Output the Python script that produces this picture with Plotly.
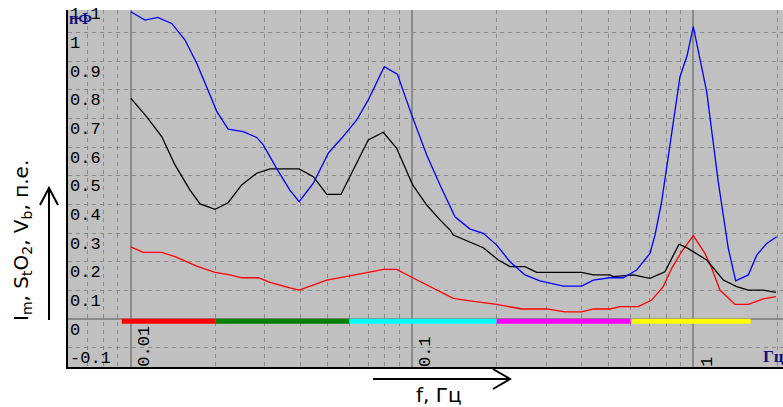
import math
import plotly.graph_objects as go

# ---------------- data ----------------
blue_f = [0.01, 0.01124, 0.01247, 0.01399, 0.0156, 0.01717, 0.01914, 0.0202, 0.0222, 0.02513,
          0.02805, 0.0296, 0.0330, 0.0368, 0.0397, 0.0446, 0.0504, 0.0562, 0.0636, 0.0699,
          0.0797, 0.0887, 0.0998, 0.1128, 0.1258, 0.1365, 0.1422, 0.1608, 0.1793, 0.2001,
          0.2231, 0.2522, 0.2851, 0.3451, 0.4012, 0.4413, 0.5058, 0.5639, 0.6292, 0.7015,
          0.731, 0.7721, 0.831, 0.8969, 0.9519, 1.0, 1.116, 1.227, 1.332, 1.415,
          1.569, 1.681, 1.824, 1.980]
blue_v = [1.073, 1.044, 1.053, 1.032, 0.974, 0.893, 0.782, 0.726, 0.663, 0.654,
          0.634, 0.608, 0.526, 0.450, 0.410, 0.474, 0.579, 0.631, 0.695, 0.765,
          0.881, 0.855, 0.712, 0.573, 0.468, 0.392, 0.357, 0.314, 0.299, 0.258,
          0.200, 0.154, 0.133, 0.115, 0.115, 0.136, 0.144, 0.144, 0.171, 0.229,
          0.293, 0.410, 0.619, 0.846, 0.922, 1.021, 0.794, 0.479, 0.247, 0.133,
          0.154, 0.223, 0.264, 0.287]

black_f = [0.01, 0.0114, 0.01289, 0.01437, 0.01625, 0.01764, 0.01994, 0.0222, 0.0248, 0.02805,
           0.0313, 0.0368, 0.0397, 0.0446, 0.0498, 0.0559, 0.0627, 0.0699, 0.0791, 0.0882,
           0.1006, 0.1128, 0.1258, 0.1365, 0.1402, 0.1608, 0.1793, 0.2027, 0.2231, 0.2522,
           0.2776, 0.4012, 0.4413, 0.5058, 0.5194, 0.6118, 0.7015, 0.7932, 0.8897, 0.9474,
           1.0, 1.116, 1.195, 1.279, 1.427, 1.569, 1.774, 1.968]
black_v = [0.771, 0.706, 0.637, 0.538, 0.450, 0.402, 0.383, 0.406, 0.468, 0.509,
           0.524, 0.524, 0.524, 0.497, 0.435, 0.435, 0.532, 0.625, 0.652, 0.596,
           0.468, 0.398, 0.346, 0.311, 0.293, 0.270, 0.249, 0.206, 0.183, 0.183,
           0.163, 0.163, 0.154, 0.154, 0.148, 0.154, 0.142, 0.165, 0.261, 0.249,
           0.235, 0.206, 0.171, 0.136, 0.113, 0.101, 0.101, 0.093]

red_f = [0.01, 0.01109, 0.01289, 0.01437, 0.01717, 0.01994, 0.02254, 0.0248, 0.0284, 0.0313,
         0.0368, 0.0397, 0.0498, 0.0586, 0.0699, 0.0791, 0.0882, 0.1006, 0.119, 0.1365,
         0.1402, 0.1608, 0.2001, 0.2455, 0.3012, 0.3499, 0.4012, 0.4413, 0.5058, 0.549,
         0.6376, 0.7112, 0.7822, 0.8379, 0.9093, 1.0, 1.1004, 1.1628, 1.244, 1.407,
         1.569, 1.774, 1.968]
red_v = [0.252, 0.233, 0.233, 0.218, 0.185, 0.163, 0.154, 0.144, 0.144, 0.128,
         0.109, 0.101, 0.136, 0.150, 0.163, 0.173, 0.173, 0.144, 0.109, 0.078,
         0.072, 0.063, 0.051, 0.035, 0.035, 0.025, 0.025, 0.035, 0.035, 0.043,
         0.043, 0.066, 0.113, 0.177, 0.235, 0.291, 0.229, 0.177, 0.101, 0.051,
         0.051, 0.070, 0.078]

band_edges = [0.0093, 0.02, 0.06, 0.2, 0.6, 1.6]
band_colors = ["#ff0000", "#008000", "#00ffff", "#ff00ff", "#ffff00"]
band_level = -0.008

x_major_ticks = [0.01, 0.1, 1]
x_major_labels = ["0.01", "0.1", "1"]
y_ticks = [1.1, 1.0, 0.9, 0.8, 0.7, 0.6, 0.5, 0.4, 0.3, 0.2, 0.1, 0.0, -0.1]
y_labels = ["1.1", "1", "0.9", "0.8", "0.7", "0.6", "0.5", "0.4", "0.3", "0.2", "0.1", "0", "-0.1"]

x_title = "f, Гц"
y_title = "I<sub>m</sub>, S<sub>t</sub>O<sub>2</sub>, V<sub>b</sub>, п.е."

# ---------------- layout geometry ----------------
W, H = 783, 407
ML, MR, MT, MB = 68, 0, 10, 40
PW, PH = W - ML - MR, H - MT - MB
Y_RANGE = [-0.1676, 1.079]


def px(x):
    return (x - ML) / PW


def py(y):
    return (H - MB - y) / PH


def yval_to_paper(v):
    return (v - Y_RANGE[0]) / (Y_RANGE[1] - Y_RANGE[0])


minor_vals = [m * 10 ** d for d in (-3, -2, -1, 0) for m in range(2, 10)]

GRID = "#8a8a8a"
MONO = "Liberation Mono"
SANS = "DejaVu Sans"

fig = go.Figure()

for i, col in enumerate(band_colors):
    fig.add_trace(go.Scatter(x=[band_edges[i], band_edges[i + 1]], y=[band_level, band_level],
                             mode="lines", line=dict(color=col, width=5), hoverinfo="skip",
                             showlegend=False))

for f, v, col in ((red_f, red_v, "#ff0000"), (black_f, black_v, "#000000"), (blue_f, blue_v, "#0000ff")):
    fig.add_trace(go.Scatter(x=f, y=v, mode="lines", line=dict(color=col, width=1.3),
                             showlegend=False))

annotations = []
for val, txt in zip(y_ticks, y_labels):
    annotations.append(dict(x=0, xref="paper", y=yval_to_paper(val), yref="paper", text=txt,
                            showarrow=False, xanchor="left", yanchor="middle", xshift=0,
                            yshift=-11, font=dict(family=MONO, size=17, color="#000000")))
for val, txt in zip(x_major_ticks, x_major_labels):
    annotations.append(dict(x=math.log10(val), xref="x", y=0, yref="paper", text=txt,
                            showarrow=False, textangle=-90, xanchor="left", yanchor="bottom",
                            xshift=2, yshift=-2,
                            font=dict(family=MONO, size=17, color="#000000")))
annotations.append(dict(x=px(67), xref="paper", y=py(8), yref="paper", text="<b>пФ</b>",
                        showarrow=False, xanchor="left", yanchor="top",
                        font=dict(family="Liberation Serif", size=16, color="#101080")))
annotations.append(dict(x=px(761), xref="paper", y=py(368), yref="paper", text="<b>Гц</b>",
                        showarrow=False, xanchor="left", yanchor="bottom",
                        font=dict(family="Liberation Serif", size=17, color="#101080")))
annotations.append(dict(x=px(439), xref="paper", y=py(395), yref="paper", text=x_title,
                        showarrow=False, xanchor="center", yanchor="middle",
                        font=dict(family=SANS, size=20, color="#000000")))
annotations.append(dict(x=px(22), xref="paper", y=py(241), yref="paper", text=y_title,
                        showarrow=False, textangle=-90, xanchor="center", yanchor="middle",
                        font=dict(family=SANS, size=20, color="#000000")))

shapes = [
    dict(type="line", xref="paper", yref="paper", x0=px(373), x1=px(510), y0=py(379), y1=py(379),
         line=dict(color="#000000", width=2)),
    dict(type="path", xref="paper", yref="paper",
         path=f"M {px(493)} {py(369)} L {px(510)} {py(379)} L {px(493)} {py(389)}",
         line=dict(color="#000000", width=2)),
    dict(type="line", xref="paper", yref="paper", x0=px(49), x1=px(49), y0=py(320), y1=py(188),
         line=dict(color="#000000", width=2)),
    dict(type="path", xref="paper", yref="paper",
         path=f"M {px(40)} {py(205)} L {px(49)} {py(188)} L {px(58)} {py(205)}",
         line=dict(color="#000000", width=2)),
]

fig.update_layout(
    width=W, height=H,
    margin=dict(l=ML, r=MR, t=MT, b=MB, pad=0),
    paper_bgcolor="#ffffff", plot_bgcolor="#c0c0c0",
    xaxis=dict(type="log", range=[-2.2229, 0.319], tickvals=x_major_ticks,
               showticklabels=False, ticks="", showgrid=True, gridcolor=GRID, gridwidth=2,
               minor=dict(tickvals=minor_vals, showgrid=True, gridcolor=GRID, gridwidth=1,
                          griddash="4px,4px", ticks=""),
               showline=True, linecolor="#000000", linewidth=2, zeroline=False),
    yaxis=dict(range=Y_RANGE, tick0=0, dtick=0.1, showticklabels=False, ticks="",
               showgrid=True, gridcolor=GRID, gridwidth=1, griddash="4px,4px",
               zeroline=True, zerolinecolor=GRID, zerolinewidth=2,
               showline=True, linecolor="#000000", linewidth=2),
    annotations=annotations,
    shapes=shapes,
)

fig.write_html("out.html", config={"displayModeBar": False},
               post_script="document.body.style.margin='0';document.body.style.overflow='hidden';")
